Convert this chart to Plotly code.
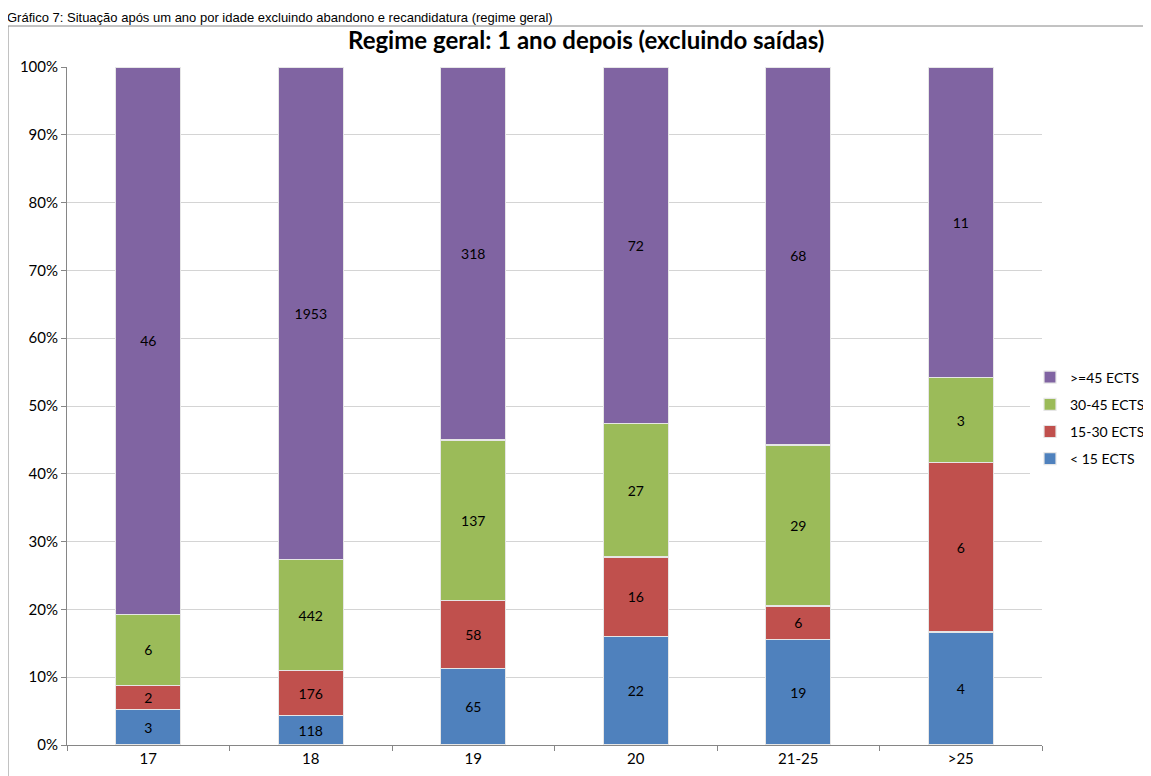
import plotly.graph_objects as go

idades = ['17', '18', '19', '20', '21-25', '>25']

menos_15 = [3, 118, 65, 22, 19, 4]
ects_15_30 = [2, 176, 58, 16, 6, 6]
ects_30_45 = [6, 442, 137, 27, 29, 3]
mais_45 = [46, 1953, 318, 72, 68, 11]

series = [
    ('< 15 ECTS', menos_15, '#4F81BD', 4),
    ('15-30 ECTS', ects_15_30, '#C0504D', 3),
    ('30-45 ECTS', ects_30_45, '#9BBB59', 2),
    ('>=45 ECTS', mais_45, '#8064A2', 1),
]

# área do gráfico em pixéis da figura
L, T, W, H = 59, 59, 975, 678


def px_x(x):
    return (x - L) / W


def px_y(y):
    return (T + H - y) / H


fig = go.Figure()
for nome, vals, cor, rank in series:
    fig.add_trace(go.Bar(
        x=idades, y=vals, name=nome, legendrank=rank, legendgroup=nome,
        marker=dict(color=cor, line=dict(color='#e6e6e6', width=1.2)),
        text=[str(v) for v in vals], textposition='inside',
        insidetextanchor='middle', textangle=0,
        textfont=dict(color='black', size=14, family='Lato'),
        width=0.4,
    ))

fig.update_layout(
    barmode='stack', barnorm='percent',
    width=1151, height=776,
    margin=dict(l=L, r=1151 - L - W, t=T, b=776 - T - H, autoexpand=False),
    plot_bgcolor='white', paper_bgcolor='white',
    font=dict(family='Lato', size=14, color='black'),
    showlegend=True,
    legend=dict(xref='container', yref='container', x=1022 / 1151, y=1 - 410 / 776,
                xanchor='left', yanchor='middle',
                traceorder='grouped', tracegroupgap=6,
                font=dict(size=14, family='Lato'), itemwidth=30),
)

fig.update_yaxes(
    range=[0, 100], dtick=10, ticksuffix='%',
    showgrid=True, gridcolor='#d4d4d4', gridwidth=1,
    showline=True, linecolor='#868686', linewidth=1,
    ticks='outside', ticklen=5, tickcolor='#868686',
    tickfont=dict(size=15), zeroline=False,
)
fig.update_xaxes(
    showline=True, linecolor='#868686', linewidth=1,
    ticks='outside', ticklen=5, tickcolor='#868686',
    tickson='boundaries', tickfont=dict(size=15),
)

# moldura do gráfico
fig.add_shape(type='rect', xref='paper', yref='paper',
              x0=px_x(0), x1=px_x(1170), y0=px_y(800), y1=px_y(18),
              line=dict(color='#868686', width=1), fillcolor='rgba(0,0,0,0)', layer='below')

fig.add_annotation(text='<b>Regime geral: 1 ano depois (excluindo saídas)</b>',
                   xref='paper', yref='paper', x=px_x(578), y=px_y(31),
                   xanchor='center', yanchor='middle', showarrow=False,
                   font=dict(size=24, family='Lato', color='black'))

fig.add_annotation(text='Gráfico 7: Situação após um ano por idade excluindo abandono e recandidatura (regime geral)',
                   xref='paper', yref='paper', x=px_x(-3), y=px_y(0),
                   xanchor='left', yanchor='top', showarrow=False,
                   font=dict(size=13, family='Liberation Sans', color='black'))

fig.write_html('out.html')
